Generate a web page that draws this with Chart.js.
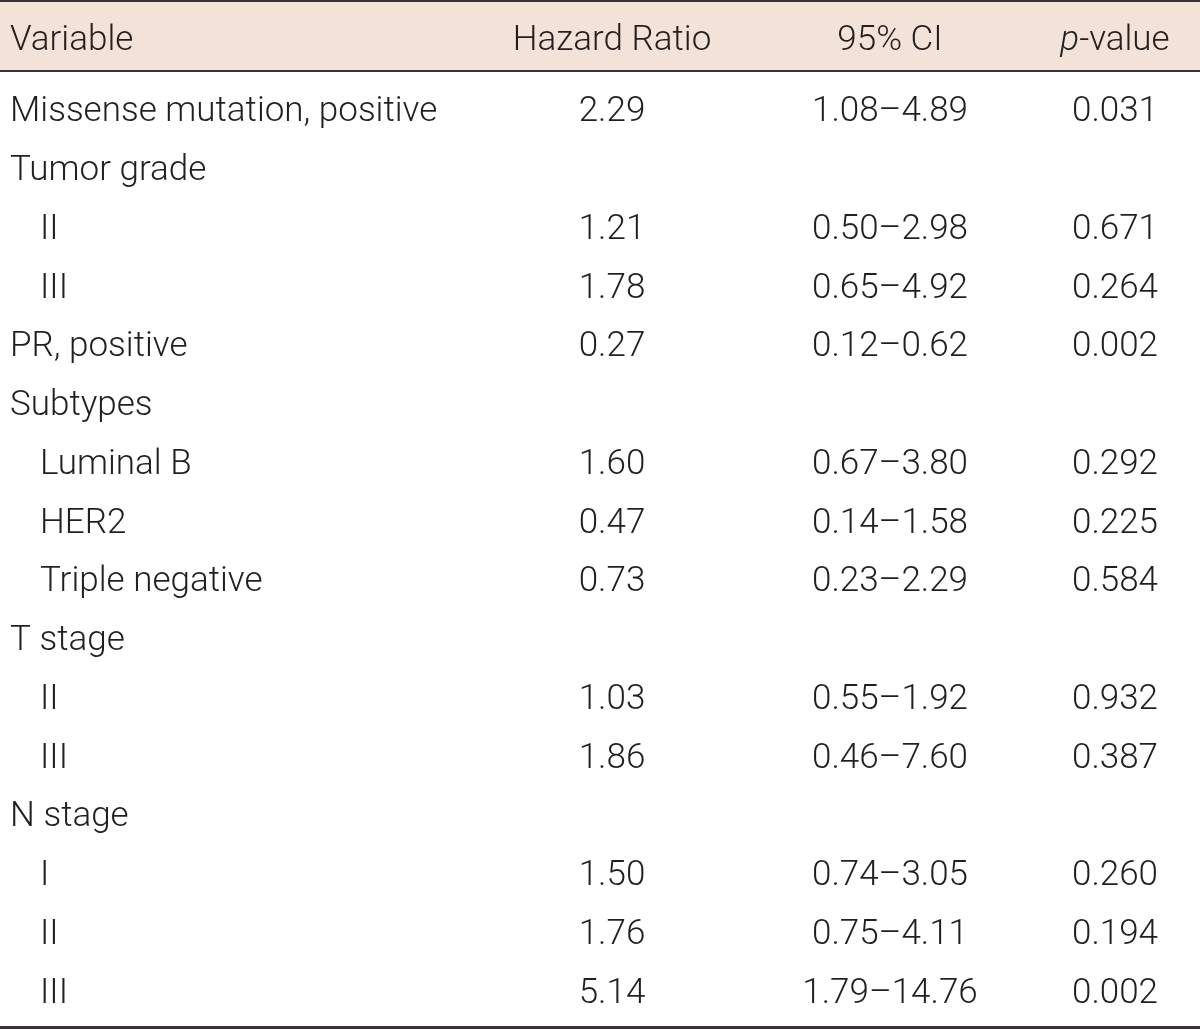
<!DOCTYPE html>
<html>
<head>
<meta charset="utf-8">
<script src="https://cdn.jsdelivr.net/npm/chart.js@4.4.1/dist/chart.umd.min.js"></script>
<style>
  html, body { margin: 0; padding: 0; background: #fff; }
  #wrap { width: 1200px; height: 1030px; position: relative; }
</style>
</head>
<body>
<div id="wrap"><canvas id="tbl"></canvas></div>
<script>
// table rows
const variables = [
  'Missense mutation, positive', 'Tumor grade', 'II', 'III', 'PR, positive',
  'Subtypes', 'Luminal B', 'HER2', 'Triple negative', 'T stage', 'II', 'III',
  'N stage', 'I', 'II', 'III'
];
const indented = [false, false, true, true, false, false, true, true, true, false, true, true, false, true, true, true];
const hazardRatio = ['2.29', '', '1.21', '1.78', '0.27', '', '1.60', '0.47', '0.73', '', '1.03', '1.86', '', '1.50', '1.76', '5.14'];
const ci95 = ['1.08–4.89', '', '0.50–2.98', '0.65–4.92', '0.12–0.62', '', '0.67–3.80', '0.14–1.58', '0.23–2.29', '', '0.55–1.92', '0.46–7.60', '', '0.74–3.05', '0.75–4.11', '1.79–14.76'];
const pValue = ['0.031', '', '0.671', '0.264', '0.002', '', '0.292', '0.225', '0.584', '', '0.932', '0.387', '', '0.260', '0.194', '0.002'];
const headers = ['Variable', 'Hazard Ratio', '95% CI', 'p-value'];

// layout (x scale units)
const colX = { variable: 10, indent: 40, hr: 612, ci: 890, p: 1115 };
const FONT = '300 35px Roboto, "Liberation Sans", sans-serif';
const FONT_I = 'italic 300 35px Roboto, "Liberation Sans", sans-serif';
const INK = '#231f20';
const RULE = '#3b3333';
const BAND = '#f3e2d7';

const tablePlugin = {
  id: 'tablePlugin',
  afterDraw(chart) {
    const ctx = chart.ctx;
    const x = chart.scales.x, y = chart.scales.y;
    const W = chart.width;
    ctx.save();

    // header band + rules
    ctx.fillStyle = BAND;
    ctx.fillRect(0, 2, W, 69);
    ctx.fillStyle = RULE;
    ctx.fillRect(0, 0, W, 2);
    ctx.fillRect(0, 70, W, 2);
    ctx.fillRect(0, 1026, W, 3);

    ctx.fillStyle = INK;
    ctx.textBaseline = 'alphabetic';
    const headBase = 37 + 13;
    ctx.font = FONT;
    ctx.textAlign = 'left';
    ctx.fillText(headers[0], x.getPixelForValue(colX.variable), headBase);
    ctx.textAlign = 'center';
    ctx.fillText(headers[1], x.getPixelForValue(colX.hr), headBase);
    ctx.fillText(headers[2], x.getPixelForValue(colX.ci), headBase);
    // p-value with italic p
    ctx.font = FONT_I;
    const wp = ctx.measureText('p').width;
    ctx.font = FONT;
    const wr = ctx.measureText('-value').width;
    const startP = x.getPixelForValue(colX.p) - (wp + wr) / 2;
    ctx.textAlign = 'left';
    ctx.font = FONT_I;
    ctx.fillText('p', startP, headBase);
    ctx.font = FONT;
    ctx.fillText('-value', startP + wp, headBase);

    // body rows
    variables.forEach((v, i) => {
      const base = y.getPixelForValue(i) + 13;
      ctx.textAlign = 'left';
      ctx.fillText(v, x.getPixelForValue(indented[i] ? colX.indent : colX.variable), base);
      ctx.textAlign = 'center';
      if (hazardRatio[i]) ctx.fillText(hazardRatio[i], x.getPixelForValue(colX.hr), base);
      if (ci95[i]) ctx.fillText(ci95[i], x.getPixelForValue(colX.ci), base);
      if (pValue[i]) ctx.fillText(pValue[i], x.getPixelForValue(colX.p), base);
    });
    ctx.restore();
  }
};

new Chart(document.getElementById('tbl'), {
  type: 'bar',
  data: { labels: variables.map((v, i) => i), datasets: [] },
  options: {
    indexAxis: 'y',
    responsive: true,
    maintainAspectRatio: false,
    animation: false,
    layout: { padding: { top: 79, bottom: 11, left: 0, right: 0 } },
    plugins: { legend: { display: false }, tooltip: { enabled: false } },
    scales: {
      x: { type: 'linear', min: 0, max: 1200, display: false },
      y: { type: 'category', offset: true, display: false }
    }
  },
  plugins: [tablePlugin]
});
</script>
</body>
</html>
